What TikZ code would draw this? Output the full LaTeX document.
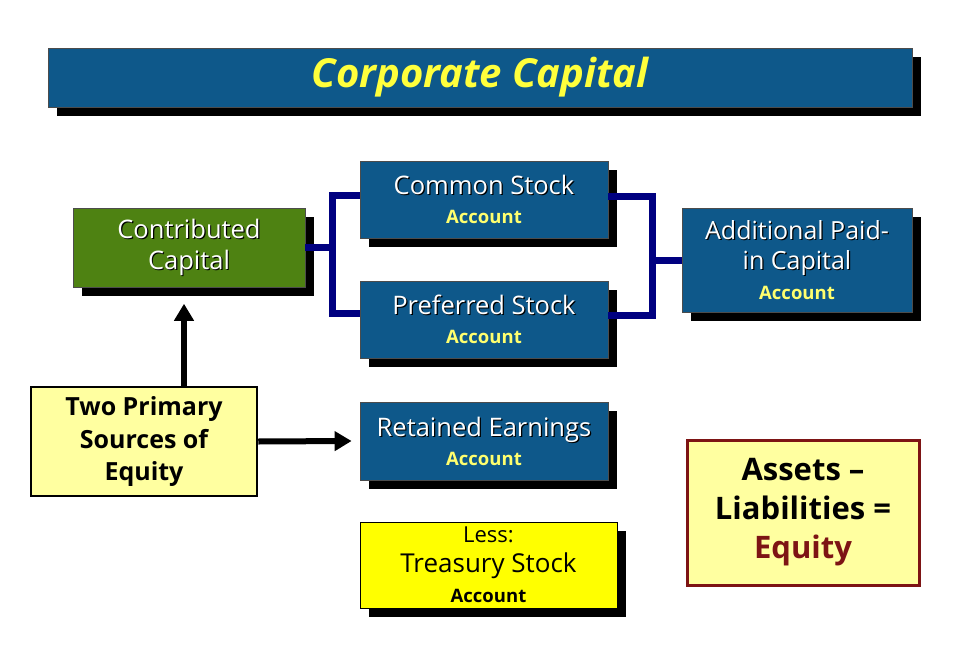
\documentclass[tikz,border=0pt]{standalone}
\usepackage{fontspec}
\setmainfont{Open Sans}
\usetikzlibrary{shadows,arrows.meta}

\definecolor{boxblue}{RGB}{14,88,138}
\definecolor{boxgreen}{RGB}{78,130,18}
\definecolor{linknavy}{RGB}{0,0,128}
\definecolor{paleyellow}{RGB}{255,255,160}
\definecolor{brightyellow}{RGB}{255,255,0}
\definecolor{titleyellow}{RGB}{255,255,60}
\definecolor{acctyellow}{RGB}{255,255,110}
\definecolor{darkred}{RGB}{125,20,20}

\newcommand{\dropText}[2]{\makebox[0pt][l]{\hspace{#1}\raisebox{-#1}{\textcolor{black}{#2}}}#2}
\newcommand{\acct}[1][acctyellow]{{\fontsize{18.5}{21}\selectfont\bfseries\textcolor{#1}{Account}}}

\begin{document}
\begin{tikzpicture}
[x=1pt,y=-1pt,
every node/.style={shape=rectangle,draw,align=center,inner sep=0pt},
shadowed/.style={drop shadow={shadow xshift=9pt,shadow yshift=-9pt,opacity=1,fill=black}},
titlebox/.style={shadowed,fill=boxblue,draw=black!70,line width=0.8pt,text=titleyellow,
  minimum width=864pt,minimum height=59pt,font=\fontsize{40}{44}\selectfont\bfseries\itshape},
acctbox/.style={shadowed,fill=boxblue,draw=black!70,line width=0.8pt,text=white,
  minimum width=248pt,minimum height=77pt,font=\fontsize{25.5}{29}\selectfont},
capbox/.style={acctbox,fill=boxgreen,minimum width=232pt,minimum height=79pt,font=\fontsize{25.5}{31}\selectfont},
lessbox/.style={acctbox,fill=brightyellow,draw=black,text=black,minimum width=257pt,minimum height=86pt},
notebox/.style={fill=paleyellow,line width=2.5pt,text=black,font=\fontsize{25}{32}\selectfont\bfseries},
bracket/.style={draw=linknavy,line width=7pt},
arrowline/.style={draw=black,line width=6pt,-{Triangle[length=17pt,width=19pt]}}]

\useasboundingbox (0,0) rectangle (960,658);

% title
\node[titlebox] (title) at (480,77.5) {Corporate Capital};

% accounts
\node[capbox] (contributed) at (189,247.5) {\dropText{1.2pt}{Contributed}\\\dropText{1.2pt}{Capital}};
\node[acctbox] (common) at (484,199.5) {\dropText{1.2pt}{Common Stock}\\\acct};
\node[acctbox] (preferred) at (484,319.5) {\dropText{1.2pt}{Preferred Stock}\\\acct};
\node[acctbox,minimum width=230pt,minimum height=104pt,font=\fontsize{25}{30}\selectfont]
  (additional) at (797,260) {\dropText{1.2pt}{Additional Paid-}\\\dropText{1.2pt}{in Capital}\\\acct};
\node[acctbox,minimum height=78pt] (retained) at (484,441) {\dropText{1.2pt}{Retained Earnings}\\\acct};
\node[lessbox,font=\fontsize{26}{30}\selectfont] (treasury) at (488.5,565)
  {{\fontsize{22}{24}\selectfont Less:}\\Treasury Stock\\\acct[black]};

% notes
\node[notebox,minimum width=226pt,minimum height=109pt] (primary) at (144,441.5)
  {Two Primary\\Sources of\\Equity};
\node[notebox,draw=darkred,line width=3pt,minimum width=232pt,minimum height=145pt,
  font=\fontsize{31}{39}\selectfont\bfseries] (equation) at (803,512.5)
  {Assets --\\Liabilities =\\\textcolor{darkred}{Equity}};

% brackets
\draw[bracket] (contributed.east) -- +(28,0);
\draw[bracket] ([yshift=4pt]common.west) -- +(-27,0) |- ([yshift=6pt]preferred.west);
\draw[bracket] ([yshift=3pt]common.east) -- +(44,0) |- ([yshift=4pt]preferred.east);
\draw[bracket] (additional.west) -- +(-30,0);

% arrows
\draw[arrowline] ([xshift=40pt]primary.north) -- +(0,-82);
\draw[arrowline] (primary.east) -- ([xshift=-8pt]retained.west);
\end{tikzpicture}
\end{document}
